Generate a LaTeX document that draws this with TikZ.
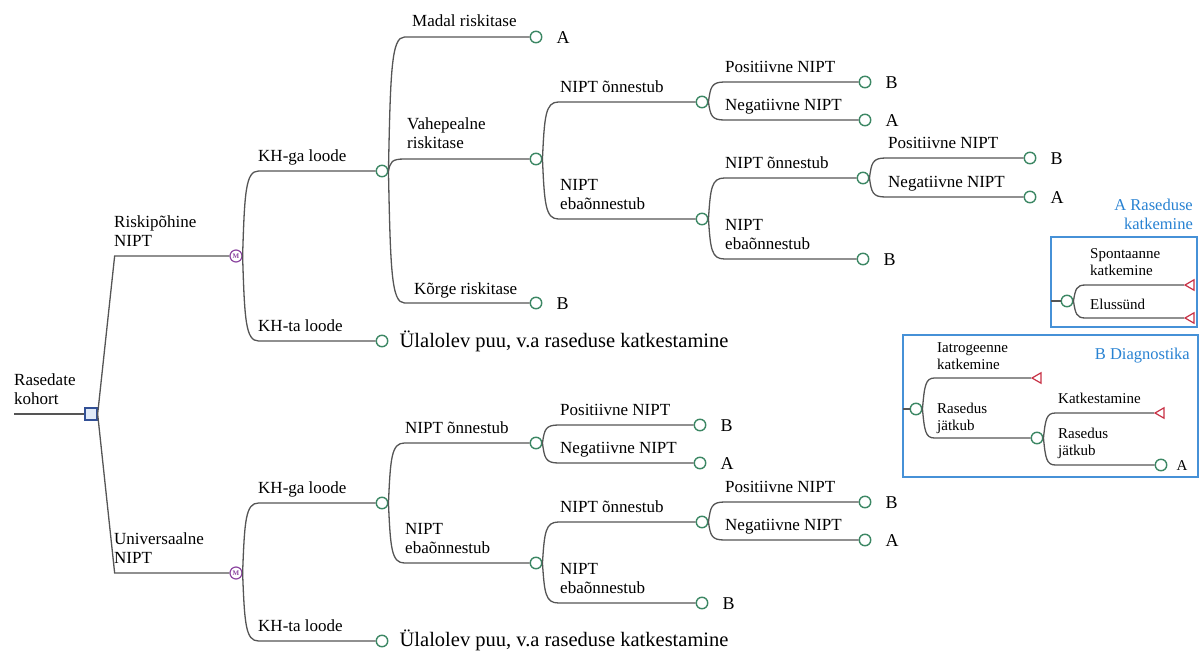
\documentclass[tikz,border=0pt]{standalone}
\usepackage{fontspec}
\setmainfont{Liberation Serif}
\usetikzlibrary{calc,shapes.geometric}
\definecolor{linec}{RGB}{85,85,85}
\definecolor{chance}{RGB}{60,135,100}
\definecolor{merkov}{RGB}{140,70,160}
\definecolor{decb}{RGB}{50,80,150}
\definecolor{decf}{RGB}{225,235,248}
\definecolor{legb}{RGB}{70,145,215}
\definecolor{legt}{RGB}{40,130,210}
\definecolor{term}{RGB}{200,50,70}
\tikzset{
 br/.style={draw=linec, line width=1.3},
 ch/.style={circle, draw=chance, fill=white, line width=1.4, minimum size=11.5, inner sep=0},
 mk/.style={circle, draw=merkov, fill=white, line width=1.2, minimum size=12, inner sep=0, font=\fontsize{7}{7}\selectfont\bfseries, text=merkov},
 dec/.style={rectangle, draw=decb, fill=decf, line width=1.3, minimum size=12, inner sep=0},
 tr/.style={regular polygon, regular polygon sides=3, shape border rotate=90, draw=term, fill=white, line width=1.2, minimum size=12, inner sep=0},
 lbl/.style={anchor=base west, inner sep=0, font=\fontsize{17}{19}\selectfont, align=left},
 big/.style={anchor=base west, inner sep=0, font=\fontsize{20.5}{23}\selectfont},
 res/.style={anchor=base west, inner sep=0, font=\fontsize{18}{20}\selectfont},
 llb/.style={anchor=base west, inner sep=0, font=\fontsize{15}{17}\selectfont, align=left},
 ttl/.style={anchor=base east, inner sep=0, font=\fontsize{16.5}{19}\selectfont, text=legt, align=right},
 legbox/.style={draw=legb, line width=1.2},
}
\newcommand{\brn}[3][16]{\draw[br] (#2.east) .. controls ($(#2.east)!0.75!(#2.east|-#3.west)+(2,0)$) and ($(#2.east|-#3.west)+(3,0)$) .. ($(#2.east|-#3.west)+(#1,0)$) -- (#3.west);}
\newcommand{\res}[2]{\node[res] (#1r) at ($(#1.east)+(14,6)$) {#2};}
\begin{document}
\begin{tikzpicture}[x=1pt,y=-1pt]
\useasboundingbox (0,0) rectangle (1200,651);
% root
\coordinate (start) at (14,414);
\node[dec] (root) at (91,414) {};
\node[lbl] (troot) at (14,404) {Rasedate\\kohort};
\draw[br] (start) -- (root.west);
\coordinate (rs) at ($(root.east)+(17,0)$);
\node[mk] (m1) at (236,256) {M};
\node[mk] (m2) at (236,573) {M};
\draw[br] (root.east) -- (rs |- m1.west) -- (m1.west);
\draw[br] (root.east) -- (rs |- m2.west) -- (m2.west);
\node[lbl] (tm1) at (114,246) {Riskipõhine\\NIPT};
\node[lbl] (tm2) at (114,563) {Universaalne\\NIPT};
% upper tree
\node[ch] (c1) at (382,171) {};
\node[ch] (c2) at (382,341) {};
\brn{m1}{c1} \brn{m1}{c2}
\node[lbl] (tc1) at (258,161) {KH-ga loode};
\node[lbl] (tc2) at (258,331) {KH-ta loode};
\node[big] (oc2) at ($(c2.east)+(11,6)$) {Ülalolev puu, v.a raseduse katkestamine};
\node[ch] (d1) at (536,37) {};
\node[ch] (d2) at (536,159) {};
\node[ch] (d3) at (536,303) {};
\res{d1}{A} \res{d3}{B}
\brn{c1}{d1} \brn{c1}{d2} \brn{c1}{d3}
\node[lbl] (td1) at (412,26) {Madal riskitase};
\node[lbl] (td2) at (407,148) {Vahepealne\\riskitase};
\node[lbl] (td3) at (414,294) {Kõrge riskitase};
\node[ch] (e1) at (702,102) {};
\node[ch] (e2) at (702,219) {};
\brn{d2}{e1} \brn{d2}{e2}
\node[lbl] (te1) at (560,92) {NIPT õnnestub};
\node[lbl] (te2) at (560,209) {NIPT\\ebaõnnestub};
\node[ch] (f1) at (865,82) {};
\node[ch] (f2) at (865,120) {};
\res{f1}{B} \res{f2}{A}
\brn{e1}{f1} \brn{e1}{f2}
\node[lbl] (tf1) at (725,72) {Positiivne NIPT};
\node[lbl] (tf2) at (725,110) {Negatiivne NIPT};
\node[ch] (f3) at (863,178) {};
\node[ch] (f4) at (863,259) {};
\res{f4}{B}
\brn{e2}{f3} \brn{e2}{f4}
\node[lbl] (tf3) at (725,168) {NIPT õnnestub};
\node[lbl] (tf4) at (725,249) {NIPT\\ebaõnnestub};
\node[ch] (g1) at (1030,158) {};
\node[ch] (g2) at (1030,197) {};
\res{g1}{B} \res{g2}{A}
\brn{f3}{g1} \brn{f3}{g2}
\node[lbl] (tg1) at (888,148) {Positiivne NIPT};
\node[lbl] (tg2) at (888,187) {Negatiivne NIPT};
% lower tree
\node[ch] (h1) at (382,503) {};
\node[ch] (h2) at (382,641) {};
\brn{m2}{h1} \brn{m2}{h2}
\node[lbl] (th1) at (258,493) {KH-ga loode};
\node[lbl] (th2) at (258,631) {KH-ta loode};
\node[big] (oh2) at ($(h2.east)+(11,5)$) {Ülalolev puu, v.a raseduse katkestamine};
\node[ch] (i1) at (536,443) {};
\node[ch] (i2) at (536,563) {};
\brn{h1}{i1} \brn{h1}{i2}
\node[lbl] (ti1) at (405,433) {NIPT õnnestub};
\node[lbl] (ti2) at (405,553) {NIPT\\ebaõnnestub};
\node[ch] (j1) at (700,425) {};
\node[ch] (j2) at (700,463) {};
\res{j1}{B} \res{j2}{A}
\brn{i1}{j1} \brn{i1}{j2}
\node[lbl] (tj1) at (560,415) {Positiivne NIPT};
\node[lbl] (tj2) at (560,453) {Negatiivne NIPT};
\node[ch] (j3) at (702,522) {};
\node[ch] (j4) at (702,603) {};
\res{j4}{B}
\brn{i2}{j3} \brn{i2}{j4}
\node[lbl] (tj3) at (560,512) {NIPT õnnestub};
\node[lbl] (tj4) at (560,593) {NIPT\\ebaõnnestub};
\node[ch] (k1) at (865,502) {};
\node[ch] (k2) at (865,540) {};
\res{k1}{B} \res{k2}{A}
\brn{j3}{k1} \brn{j3}{k2}
\node[lbl] (tk1) at (725,492) {Positiivne NIPT};
\node[lbl] (tk2) at (725,530) {Negatiivne NIPT};
% legend A
\draw[legbox] (1051,237) rectangle (1197,327);
\node[ttl] (tta) at (1193,229) {A Raseduse\\katkemine};
\coordinate (la0) at (1051,301);
\node[ch] (la1) at (1067,301) {};
\draw[br] (la0) -- (la1.west);
\node[tr] (ta1) at (1191,285) {};
\node[tr] (ta2) at (1191,318) {};
\brn[12]{la1}{ta1} \brn[12]{la1}{ta2}
\node[llb] (tla1) at (1090,275) {Spontaanne\\katkemine};
\node[llb] (tla2) at (1090,309) {Elussünd};
% legend B
\draw[legbox] (903,335) rectangle (1198,477);
\node[ttl] (ttb) at (1190,359) {B Diagnostika};
\coordinate (lb0) at (903,409);
\node[ch] (lb1) at (916,409) {};
\draw[br] (lb0) -- (lb1.west);
\node[tr] (tb1) at (1038,378) {};
\node[ch] (lb2) at (1037,438) {};
\brn[12]{lb1}{tb1} \brn[12]{lb1}{lb2}
\node[llb] (tlb1) at (937,369) {Iatrogeenne\\katkemine};
\node[llb] (tlb2) at (937,430) {Rasedus\\jätkub};
\node[tr] (tb2) at (1161,413) {};
\node[ch] (lb3) at (1161,465) {};
\node[llb] (lb3r) at ($(lb3.east)+(9,5)$) {A};
\brn[12]{lb2}{tb2} \brn[12]{lb2}{lb3}
\node[llb] (tlb3) at (1058,403) {Katkestamine};
\node[llb] (tlb4) at (1058,455) {Rasedus\\jätkub};
\end{tikzpicture}
\end{document}
